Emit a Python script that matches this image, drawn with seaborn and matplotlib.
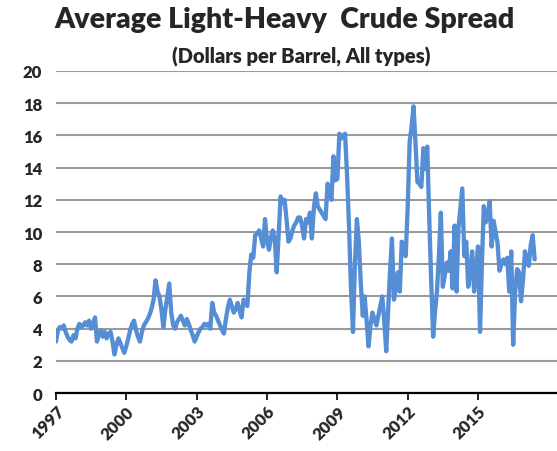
import pandas as pd
import matplotlib.pyplot as plt
import matplotlib.dates as mdates
import seaborn as sns

# Monthly light-heavy crude spread, Jan 1997 onwards (dollars per barrel)
spread_1997_2001 = [
    3.2, 3.9, 4.1, 4.0, 4.2, 3.8, 3.5, 3.3, 3.2, 3.6, 3.4, 4.0,
    4.3, 4.1, 4.2, 4.4, 4.2, 4.5, 4.0, 4.3, 4.7, 3.2, 3.6, 3.9,
    3.5, 3.8, 3.4, 3.7, 3.8, 3.2, 2.4, 3.0, 3.4, 3.1, 2.8, 2.5,
    2.9, 3.4, 3.9, 4.3, 4.5, 3.9, 3.5, 3.2, 3.8, 4.2, 4.4, 4.6,
    4.9, 5.3, 5.8, 7.0, 6.3, 6.0, 5.2, 4.1, 5.2, 6.0, 6.8, 5.0,
]
spread_2002_2006 = [
    4.2, 4.0, 4.4, 4.6, 4.8, 4.5, 4.2, 4.6, 4.3, 3.9, 3.6, 3.2,
    3.5, 3.8, 4.0, 4.1, 4.3, 4.2, 4.3, 4.0, 5.6, 5.0, 4.8, 4.5,
    4.2, 3.9, 3.7, 4.6, 5.3, 5.8, 5.4, 5.0, 5.2, 5.6, 5.1, 4.7,
    5.8, 5.6, 5.4, 7.5, 8.6, 8.4, 9.8, 9.9, 10.1, 9.6, 9.1, 10.8,
    9.5, 8.9, 9.6, 10.1, 9.6, 7.5, 9.8, 12.2, 11.8, 12.0, 10.8, 9.4,
]
spread_2007_2011 = [
    9.6, 10.1, 10.4, 10.6, 10.9, 10.9, 10.4, 9.6, 10.8, 10.6, 11.2, 9.6,
    11.5, 12.4, 11.6, 11.4, 11.2, 11.0, 10.8, 13.0, 12.6, 12.0, 14.7, 13.2,
    13.3, 16.1, 15.8, 16.0, 16.1, 13.5, 10.4, 6.5, 3.8, 8.0, 10.8, 9.4,
    6.8, 4.8, 6.0, 4.5, 2.9, 4.2, 5.0, 4.6, 4.2, 4.8, 5.4, 6.0,
    4.5, 2.6, 5.0, 7.5, 9.6, 5.8, 6.5, 7.5, 6.3, 9.4, 9.0, 8.5,
]
spread_2012_2017 = [
    11.5, 15.6, 16.5, 17.8, 15.6, 13.1, 13.0, 12.8, 15.2, 13.9, 15.3, 11.0,
    7.0, 3.5, 5.0, 6.3, 8.5, 11.2, 6.6, 7.3, 8.1, 7.6, 8.8, 6.5,
    10.4, 6.3, 10.2, 11.5, 12.7, 8.5, 9.4, 6.6, 7.5, 8.8, 6.3, 7.8,
    9.1, 3.8, 7.9, 11.6, 10.6, 11.0, 11.9, 9.1, 10.7, 10.0, 9.3, 7.6,
    8.0, 8.3, 8.0, 8.4, 6.3, 8.8, 3.0, 6.3, 7.7, 7.5, 5.7, 7.0,
    8.8, 8.2, 7.9, 9.2, 9.8, 8.3,
]
spread = spread_1997_2001 + spread_2002_2006 + spread_2007_2011 + spread_2012_2017
months = pd.date_range('1997-01-01', periods=len(spread), freq='MS')
tick_years = [1997, 2000, 2003, 2006, 2009, 2012, 2015]

df = pd.DataFrame({'date': months, 'spread': spread})

sns.set_style('white')
plt.rcParams['font.family'] = ['Lato', 'DejaVu Sans']

fig = plt.figure(figsize=(5.57, 4.52), dpi=100)
ax = fig.add_axes([0.1005, 0.128, 0.8995, 0.713])

sns.lineplot(data=df, x='date', y='spread', ax=ax, color='#558ED5', linewidth=3.1)

ax.set_ylim(0, 20)
ax.set_yticks(range(0, 21, 2))
ax.set_xlim(pd.Timestamp('1997-01-01'), pd.Timestamp('2018-05-15'))
ax.set_xticks([pd.Timestamp(f'{y}-01-01') for y in tick_years])
ax.xaxis.set_major_formatter(mdates.DateFormatter('%Y'))

ax.grid(axis='y', color='#9A9A9A', linewidth=1.5)
ax.set_axisbelow(True)
for side in ['left', 'right', 'top']:
    ax.spines[side].set_visible(False)
ax.spines['bottom'].set_color('black')
ax.spines['bottom'].set_linewidth(1.6)

ax.tick_params(axis='x', direction='out', length=5, width=1.2, color='black',
               bottom=True, pad=2)
ax.tick_params(axis='y', length=0, pad=10)
for lab in ax.get_xticklabels():
    lab.set_rotation(45)
    lab.set_ha('right')
    lab.set_rotation_mode('anchor')
    lab.set_fontweight('heavy')
    lab.set_fontsize(12)
for lab in ax.get_yticklabels():
    lab.set_fontweight('heavy')
    lab.set_fontsize(12)

ax.set_xlabel('')
ax.set_ylabel('')

fig.text(0.51, 0.985, 'Average Light-Heavy  Crude Spread', ha='center', va='top',
         fontsize=20.5, fontweight='heavy')
fig.text(0.54, 0.897, '(Dollars per Barrel, All types)', ha='center', va='top',
         fontsize=14.5, fontweight='heavy')

fig.savefig('out.png', dpi=100)
